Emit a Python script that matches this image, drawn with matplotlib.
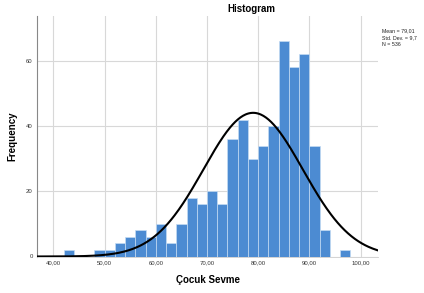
import numpy as np
import matplotlib
matplotlib.use("Agg")
import matplotlib.pyplot as plt

# Data (bin width 2)
bin_left = [42, 48, 50, 52, 54, 56, 58, 60, 62, 64, 66, 68, 70, 72, 74, 76, 78,
            80, 82, 84, 86, 88, 90, 92, 96]
counts = [2, 2, 2, 4, 6, 8, 6, 10, 4, 10, 18, 16, 20, 16, 36, 42, 30,
          34, 40, 66, 58, 62, 34, 8, 2]
bin_width = 2
mean_val = 79.01
std_val = 9.7
n_val = 536
x_ticks = [40, 50, 60, 70, 80, 90, 100]
x_tick_labels = ["40,00", "50,00", "60,00", "70,00", "80,00", "90,00", "100,00"]
y_ticks = [0, 20, 40, 60]

plt.rcParams['font.family'] = ['Liberation Sans', 'DejaVu Sans']

W, H = 424, 293
fig = plt.figure(figsize=(W / 100, H / 100), dpi=100)
ax_l, ax_r, ax_t, ax_b = 37, 378, 16, 256.5
ax = fig.add_axes([ax_l / W, 1 - ax_b / H, (ax_r - ax_l) / W, (ax_b - ax_t) / H])

xmin, xmax = 36.8, 103.4
ax.set_xlim(xmin, xmax)
ax.set_ylim(0, 73.8)

ax.set_axisbelow(True)
ax.grid(True, color="#d8d8d8", linewidth=0.8)

ax.bar(bin_left, counts, width=bin_width, align="edge", color="#4c8bd2",
       edgecolor="#c4dbf3", linewidth=0.5, zorder=2)

xs = np.linspace(xmin, xmax, 400)
ys = n_val * bin_width / (std_val * np.sqrt(2 * np.pi)) * np.exp(-0.5 * ((xs - mean_val) / std_val) ** 2)
ax.plot(xs, ys, color="black", linewidth=1.5, zorder=3)

ax.set_xticks(x_ticks)
ax.set_xticklabels(x_tick_labels)
ax.set_yticks(y_ticks)
ax.tick_params(axis="both", length=0, labelsize=4.3, colors="#333333", pad=3)

for s in ["top", "right"]:
    ax.spines[s].set_visible(False)
ax.spines["left"].set_color("#888888")
ax.spines["left"].set_linewidth(0.8)
ax.spines["bottom"].set_color("#cccccc")
ax.spines["bottom"].set_linewidth(0.6)

ax.set_xlabel("Çocuk Sevme", fontsize=7, fontweight="bold", labelpad=7)
ax.set_ylabel("Frequency", fontsize=7, fontweight="bold", labelpad=6)

fig.text(251 / W, 1 - 9 / H, "Histogram", fontsize=7, fontweight="bold",
         ha="center", va="center")

stats_lines = ["Mean = 79,01", "Std. Dev. = 9,7", "N = 536"]
for i, line in enumerate(stats_lines):
    fig.text(382 / W, 1 - (31 + i * 6.5) / H, line, fontsize=3.8,
             ha="left", va="center", color="#222222")

fig.savefig("out.png", dpi=100)
